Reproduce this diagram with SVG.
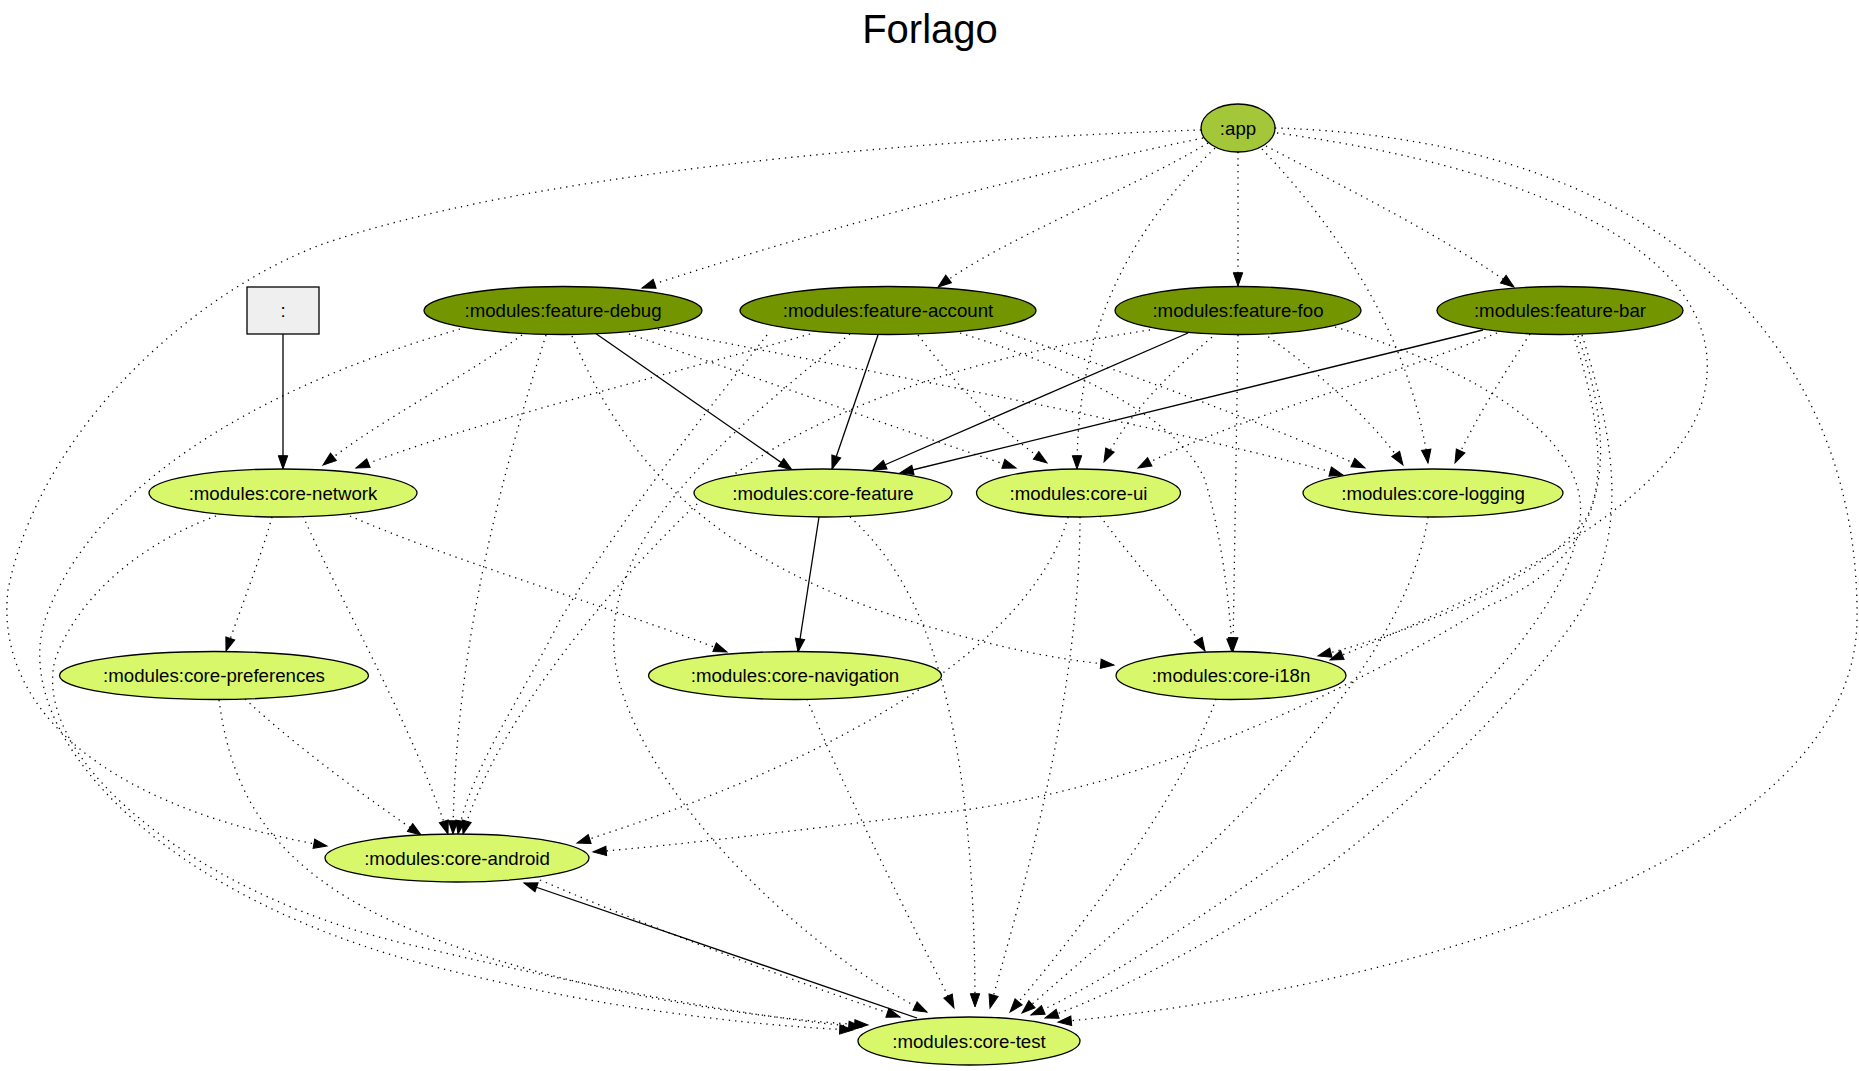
<svg xmlns="http://www.w3.org/2000/svg" width="1859" height="1071" viewBox="0 0 1859 1071">
<defs>
<style>
.n text{font-family:"Liberation Sans",Arial,sans-serif;font-size:18.67px;text-anchor:middle;fill:#000}
.n ellipse,.n rect{stroke:#000;stroke-width:1.3}
.app{fill:#a4c639}
.feat{fill:#739600}
.core{fill:#d9f76a}
.box{fill:#efefef}
#edges path{fill:none;stroke:#000;stroke-width:1.3;marker-end:url(#ah)}
#edges path.d{stroke-dasharray:1.3,5}
.title{font-family:"Liberation Sans",Arial,sans-serif;font-size:40px;text-anchor:middle;fill:#000}
</style>
<marker id="ah" markerUnits="userSpaceOnUse" markerWidth="16" markerHeight="12" refX="13.3" refY="4.7" orient="auto" overflow="visible">
<path d="M0,0 L13.3,4.7 L0,9.4 z" fill="#000" stroke="#000" stroke-width="1"/>
</marker>
</defs>
<rect width="1859" height="1071" fill="#fff"/>
<text class="title" x="930" y="43">Forlago</text>

<g id="edges">
<!-- app -->
<path class="d" d="M1203,138 C1000,180 800,236 642,288"/>
<path class="d" d="M1208,143 C1130,190 1000,240 938,287"/>
<path class="d" d="M1238,152 L1238,286"/>
<path class="d" d="M1266,146 C1350,190 1450,240 1514,287"/>
<path class="d" d="M1215,148 C1130,230 1077,330 1077,469"/>
<path class="d" d="M1262,149 C1330,220 1410,330 1428,463"/>
<path class="d" d="M1277,133 C1550,170 1730,260 1705,390 C1685,500 1480,600 1330,660"/>
<path class="d" d="M1201,130 C900,140 520,175 320,245 C190,295 40,430 8,590 C-5,700 90,805 327,846"/>
<path class="d" d="M1275,128 C1680,140 1860,360 1857,620 C1855,860 1400,990 1058,1022"/>
<!-- colon -->
<path d="M283,334 L283,469"/>
<!-- debug -->
<path d="M595,333 L792,470"/>
<path class="d" d="M522,335 C460,380 380,420 323,465"/>
<path class="d" d="M546,335 C500,480 455,650 453,834"/>
<path class="d" d="M460,329 C250,390 90,490 45,620 C10,730 150,890 420,963 C600,1010 760,1026 853,1030"/>
<path class="d" d="M629,334 C750,375 900,430 1016,468"/>
<path class="d" d="M658,329 C800,360 1100,410 1343,475"/>
<path class="d" d="M572,336 C620,450 700,560 930,627 C1000,648 1060,660 1114,665"/>
<!-- account -->
<path d="M878,335 L832,469"/>
<path class="d" d="M810,334 C650,380 480,420 356,468"/>
<path class="d" d="M767,335 C700,420 620,520 560,620 C520,700 470,770 458,834"/>
<path class="d" d="M850,334 C720,440 600,540 615,660 C630,780 800,950 927,1012"/>
<path class="d" d="M918,335 C960,390 1000,430 1047,463"/>
<path class="d" d="M1000,331 C1150,380 1280,430 1365,468"/>
<path class="d" d="M960,333 C1080,370 1180,420 1205,480 C1220,530 1230,600 1232,652"/>
<!-- foo -->
<path d="M1188,333 L873,470"/>
<path class="d" d="M1150,330 C950,360 780,420 680,520 C580,620 490,740 463,834"/>
<path class="d" d="M1217,333 C1160,380 1125,420 1104,462"/>
<path class="d" d="M1238,335 L1233,651"/>
<path class="d" d="M1263,333 C1330,380 1380,430 1403,465"/>
<path class="d" d="M1335,327 C1480,370 1590,440 1580,520 C1570,620 1420,760 1305,843 C1200,920 1090,990 1031,1015"/>
<!-- bar -->
<path d="M1483,330 L900,473"/>
<path class="d" d="M1497,333 C1380,380 1230,420 1138,468"/>
<path class="d" d="M1530,334 C1500,380 1475,420 1455,463"/>
<path class="d" d="M1573,334 C1595,400 1610,480 1585,520 C1540,580 1420,630 1318,656"/>
<path class="d" d="M1578,336 C1625,470 1600,560 1490,605 C1350,690 1150,790 940,813 C800,830 680,845 593,852"/>
<path class="d" d="M1582,335 C1625,470 1625,560 1560,640 C1490,730 1380,830 1305,882 C1200,950 1100,1000 1045,1018"/>
<!-- network -->
<path class="d" d="M272,517 C260,560 240,610 226,651"/>
<path class="d" d="M303,516 C340,600 410,720 448,834"/>
<path class="d" d="M350,516 C450,560 620,610 727,652"/>
<path class="d" d="M216,516 C150,540 80,590 55,660 C30,760 200,900 420,947 C600,990 770,1020 862,1027"/>
<!-- feature -->
<path d="M819,517 L798,652"/>
<path class="d" d="M850,517 C920,580 975,700 975,1007"/>
<!-- ui -->
<path class="d" d="M1068,517 C1040,620 900,740 577,843"/>
<path class="d" d="M1100,516 C1140,570 1180,610 1205,651"/>
<path class="d" d="M1080,517 C1080,700 1020,900 990,1008"/>
<!-- logging -->
<path class="d" d="M1428,517 C1400,700 1150,900 1022,1013"/>
<!-- preferences -->
<path class="d" d="M245,699 C300,750 370,800 421,835"/>
<path class="d" d="M219,700 C230,780 260,870 420,933 C560,990 760,1020 868,1025"/>
<!-- navigation -->
<path class="d" d="M807,699 C840,780 900,900 954,1008"/>
<!-- i18n -->
<path class="d" d="M1216,699 C1180,800 1080,930 1010,1012"/>
<!-- android / test -->
<path class="d" d="M540,880 C680,940 820,990 900,1017"/>
<path d="M917,1018 L524,883"/>
</g>

<g id="node-app" class="n"><ellipse class="app" cx="1238" cy="128" rx="37" ry="24"/><text x="1238" y="134.5">:app</text></g>
<g id="node-root" class="n"><rect class="box" x="247" y="287" width="72" height="47"/><text x="283" y="317">:</text></g>
<g id="node-feature-debug" class="n"><ellipse class="feat" cx="563" cy="310.5" rx="139" ry="24"/><text x="563" y="317">:modules:feature-debug</text></g>
<g id="node-feature-account" class="n"><ellipse class="feat" cx="888" cy="310.5" rx="148" ry="24"/><text x="888" y="317">:modules:feature-account</text></g>
<g id="node-feature-foo" class="n"><ellipse class="feat" cx="1238" cy="310.5" rx="123" ry="24"/><text x="1238" y="317">:modules:feature-foo</text></g>
<g id="node-feature-bar" class="n"><ellipse class="feat" cx="1560" cy="310.5" rx="123" ry="24"/><text x="1560" y="317">:modules:feature-bar</text></g>
<g id="node-core-network" class="n"><ellipse class="core" cx="283" cy="493" rx="134" ry="24"/><text x="283" y="499.5">:modules:core-network</text></g>
<g id="node-core-feature" class="n"><ellipse class="core" cx="823" cy="493" rx="129" ry="24"/><text x="823" y="499.5">:modules:core-feature</text></g>
<g id="node-core-ui" class="n"><ellipse class="core" cx="1078.5" cy="493" rx="102" ry="24"/><text x="1078.5" y="499.5">:modules:core-ui</text></g>
<g id="node-core-logging" class="n"><ellipse class="core" cx="1433" cy="493" rx="130" ry="24"/><text x="1433" y="499.5">:modules:core-logging</text></g>
<g id="node-core-preferences" class="n"><ellipse class="core" cx="214" cy="675.5" rx="154.5" ry="24"/><text x="214" y="682">:modules:core-preferences</text></g>
<g id="node-core-navigation" class="n"><ellipse class="core" cx="795" cy="675.5" rx="146.5" ry="24"/><text x="795" y="682">:modules:core-navigation</text></g>
<g id="node-core-i18n" class="n"><ellipse class="core" cx="1231" cy="675.5" rx="115" ry="24"/><text x="1231" y="682">:modules:core-i18n</text></g>
<g id="node-core-android" class="n"><ellipse class="core" cx="457" cy="858" rx="132" ry="24"/><text x="457" y="864.5">:modules:core-android</text></g>
<g id="node-core-test" class="n"><ellipse class="core" cx="969" cy="1041" rx="111" ry="24"/><text x="969" y="1047.5">:modules:core-test</text></g>
</svg>
